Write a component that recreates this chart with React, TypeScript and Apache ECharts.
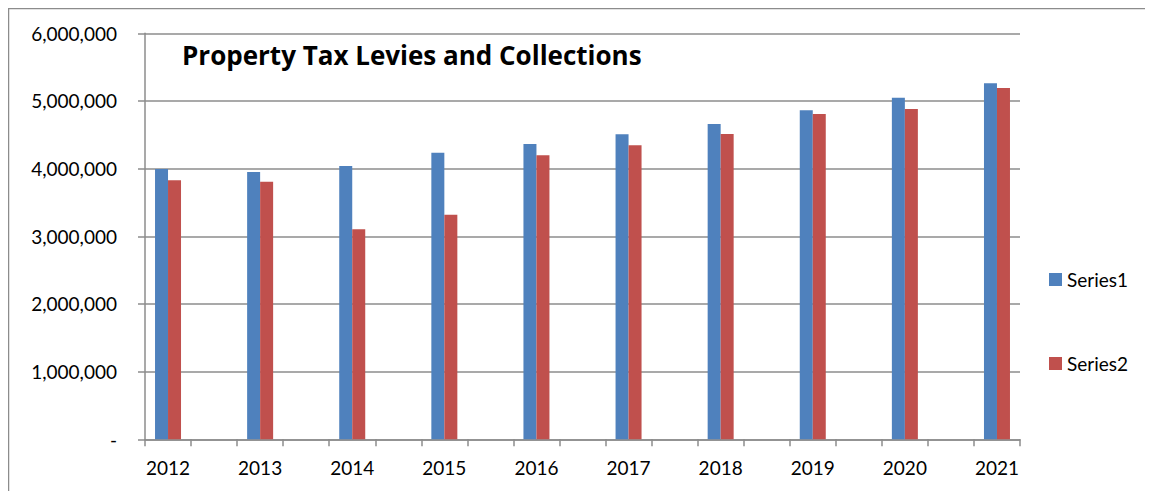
import React, { useEffect, useRef } from "react";
import * as echarts from "echarts";

const years = ["2012", "2013", "2014", "2015", "2016", "2017", "2018", "2019", "2020", "2021"];
const series1 = [3995000, 3950000, 4040000, 4235000, 4365000, 4507000, 4660000, 4862000, 5048000, 5260000];
const series2 = [3830000, 3807000, 3103000, 3320000, 4197000, 4345000, 4510000, 4807000, 4880000, 5190000];
const seriesNames = ["Series1", "Series2"];
const yTicks = [0, 1000000, 2000000, 3000000, 4000000, 5000000, 6000000];
const titleText = "Property Tax Levies and Collections";

const FONT = "Lato";

function interleave<T>(arr: T[], gap: (i: number) => T): T[] {
  const out: T[] = [];
  arr.forEach((v, i) => {
    out.push(v);
    if (i < arr.length - 1) out.push(gap(i));
  });
  return out;
}

export default function App() {
  const ref = useRef<HTMLDivElement>(null);
  useEffect(() => {
    if (!ref.current) return;
    const chart = echarts.init(ref.current, undefined, { renderer: "svg" });
    const categories = interleave(years, (i) => `_gap${i}`);
    const d1 = interleave<number | null>(series1, () => null);
    const d2 = interleave<number | null>(series2, () => null);
    const gridColor = "#8c8c8c";
    chart.setOption({
      animation: false,
      backgroundColor: "#ffffff",
      graphic: [
        {
          type: "rect",
          shape: { x: 0.5, y: 0.5, width: 1300, height: 700 },
          style: { fill: "none", stroke: gridColor, lineWidth: 1.5 },
          silent: true,
          z: 0,
        },
        {
          type: "text",
          style: {
            x: 174,
            y: 47,
            text: titleText,
            font: `bold 26px 'Open Sans'`,
            fill: "#000",
            textVerticalAlign: "middle",
          },
          z: 10,
        },
      ],
      legend: {
        data: seriesNames,
        orient: "vertical",
        left: 1036,
        top: 257,
        itemWidth: 13,
        itemHeight: 13,
        itemGap: 65,
        icon: "rect",
        textStyle: { fontFamily: FONT, fontSize: 19, color: "#000" },
      },
      grid: { left: 137, right: 133, top: 25.3, bottom: 51.7, containLabel: false },
      xAxis: {
        type: "category",
        data: categories,
        boundaryGap: true,
        axisLine: { show: true, lineStyle: { color: gridColor, width: 1.5 } },
        axisTick: { show: true, interval: 0, length: 7, alignWithLabel: false, lineStyle: { color: gridColor, width: 1.5 } },
        axisLabel: {
          interval: 0,
          margin: 19,
          fontFamily: FONT,
          fontSize: 19,
          color: "#000",
          formatter: (v: string) => (v.startsWith("_") ? "" : v),
        },
        splitLine: { show: false },
      },
      yAxis: {
        type: "value",
        min: yTicks[0],
        max: yTicks[yTicks.length - 1],
        interval: 1000000,
        axisLine: { show: true, lineStyle: { color: gridColor, width: 1.5 } },
        axisTick: { show: true, length: 7, lineStyle: { color: gridColor, width: 1.5 } },
        axisLabel: {
          margin: 28,
          fontFamily: FONT,
          fontSize: 19,
          color: "#000",
          formatter: (v: number) => (v === 0 ? "-" : v.toLocaleString("en-US")),
        },
        splitLine: { show: true, lineStyle: { color: gridColor, width: 1.5 } },
      },
      series: [
        {
          name: seriesNames[0],
          type: "bar",
          data: d1,
          barWidth: 13,
          barGap: "0%",
          itemStyle: { color: "#4F81BD" },
        },
        {
          name: seriesNames[1],
          type: "bar",
          data: d2,
          barWidth: 13,
          barGap: "0%",
          itemStyle: { color: "#C0504D" },
        },
      ],
    });
    return () => chart.dispose();
  }, []);
  return <div ref={ref} style={{ width: 1145, height: 483 }} />;
}
